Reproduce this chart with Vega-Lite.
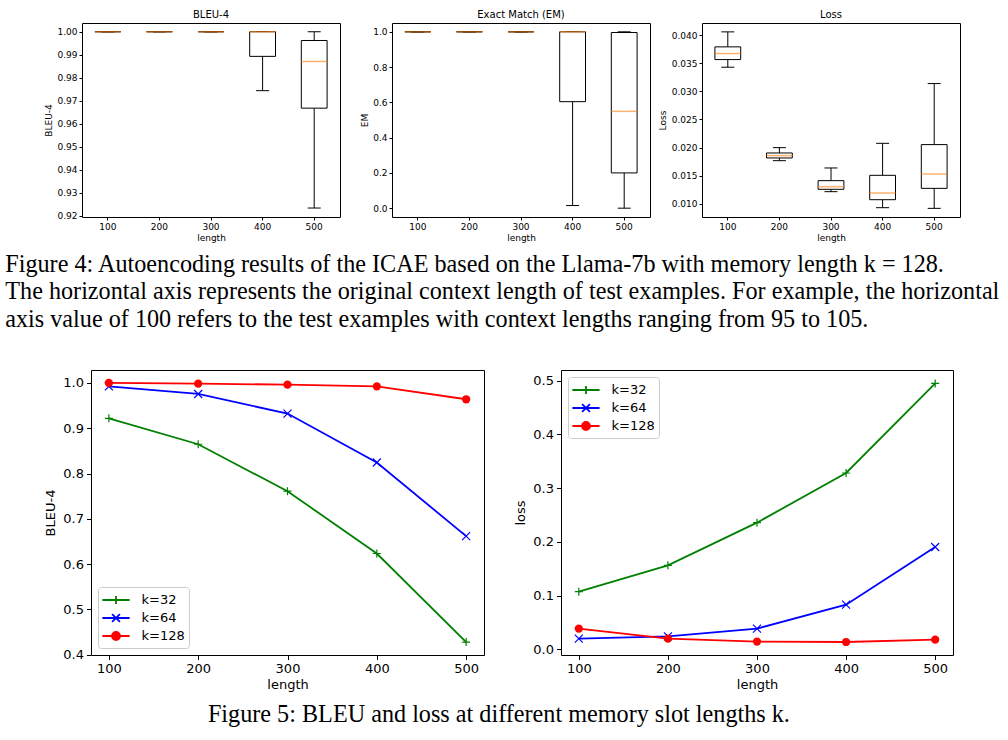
{
  "$schema": "https://vega.github.io/schema/vega-lite/v6.json",
  "background": "white",
  "padding": {"left": 5, "top": 9, "right": 5, "bottom": 5},
  "config": {
    "font": "DejaVu Sans",
    "view": {"stroke": "black", "strokeWidth": 1},
    "axis": {"domain": false, "grid": false, "tickColor": "black", "labelColor": "black", "titleColor": "black", "titleFontWeight": "normal", "labelFont": "DejaVu Sans", "titleFont": "DejaVu Sans", "tickWidth": 1, "labelOverlap": false, "tickCount": 20},
    "title": {"font": "DejaVu Sans", "fontWeight": "normal", "color": "black"}
  },
  "datasets": {
    "bleu_box": [
      {"length": "100", "lower": 1.0, "q1": 1.0, "median": 1.0, "q3": 1.0, "upper": 1.0},
      {"length": "200", "lower": 1.0, "q1": 1.0, "median": 1.0, "q3": 1.0, "upper": 1.0},
      {"length": "300", "lower": 1.0, "q1": 1.0, "median": 1.0, "q3": 1.0, "upper": 1.0},
      {"length": "400", "lower": 0.9744, "q1": 0.9893, "median": 1.0, "q3": 1.0, "upper": 1.0},
      {"length": "500", "lower": 0.9234, "q1": 0.9668, "median": 0.9871, "q3": 0.9962, "upper": 1.0}
    ],
    "em_box": [
      {"length": "100", "lower": 1.0, "q1": 1.0, "median": 1.0, "q3": 1.0, "upper": 1.0},
      {"length": "200", "lower": 1.0, "q1": 1.0, "median": 1.0, "q3": 1.0, "upper": 1.0},
      {"length": "300", "lower": 1.0, "q1": 1.0, "median": 1.0, "q3": 1.0, "upper": 1.0},
      {"length": "400", "lower": 0.015, "q1": 0.604, "median": 1.0, "q3": 1.0, "upper": 1.0},
      {"length": "500", "lower": 0.0, "q1": 0.2, "median": 0.549, "q3": 0.996, "upper": 1.0}
    ],
    "loss_box": [
      {"length": "100", "lower": 0.0343, "q1": 0.03566, "median": 0.03673, "q3": 0.03792, "upper": 0.04059},
      {"length": "200", "lower": 0.01766, "q1": 0.01814, "median": 0.01856, "q3": 0.01903, "upper": 0.01998},
      {"length": "300", "lower": 0.01214, "q1": 0.01256, "median": 0.01303, "q3": 0.0141, "upper": 0.01636},
      {"length": "400", "lower": 0.00929, "q1": 0.01071, "median": 0.0119, "q3": 0.01505, "upper": 0.02075},
      {"length": "500", "lower": 0.00917, "q1": 0.01273, "median": 0.01529, "q3": 0.02052, "upper": 0.03139}
    ],
    "bleu_line": [
      {"length": 100, "k": "k=32", "value": 0.922},
      {"length": 200, "k": "k=32", "value": 0.8647},
      {"length": 300, "k": "k=32", "value": 0.761},
      {"length": 400, "k": "k=32", "value": 0.6235},
      {"length": 500, "k": "k=32", "value": 0.428},
      {"length": 100, "k": "k=64", "value": 0.9926},
      {"length": 200, "k": "k=64", "value": 0.9757},
      {"length": 300, "k": "k=64", "value": 0.9324},
      {"length": 400, "k": "k=64", "value": 0.8243},
      {"length": 500, "k": "k=64", "value": 0.6618},
      {"length": 100, "k": "k=128", "value": 1.0},
      {"length": 200, "k": "k=128", "value": 0.9985},
      {"length": 300, "k": "k=128", "value": 0.9963},
      {"length": 400, "k": "k=128", "value": 0.9926},
      {"length": 500, "k": "k=128", "value": 0.964}
    ],
    "loss_line": [
      {"length": 100, "k": "k=32", "value": 0.1073},
      {"length": 200, "k": "k=32", "value": 0.1563},
      {"length": 300, "k": "k=32", "value": 0.2357},
      {"length": 400, "k": "k=32", "value": 0.3282},
      {"length": 500, "k": "k=32", "value": 0.495},
      {"length": 100, "k": "k=64", "value": 0.0199},
      {"length": 200, "k": "k=64", "value": 0.0242},
      {"length": 300, "k": "k=64", "value": 0.0385},
      {"length": 400, "k": "k=64", "value": 0.0831},
      {"length": 500, "k": "k=64", "value": 0.1904},
      {"length": 100, "k": "k=128", "value": 0.0385},
      {"length": 200, "k": "k=128", "value": 0.0199},
      {"length": 300, "k": "k=128", "value": 0.0143},
      {"length": 400, "k": "k=128", "value": 0.0136},
      {"length": 500, "k": "k=128", "value": 0.018}
    ]
  },
  "spacing": 35,
  "vconcat": [
    {
      "hconcat": [
        {
          "width": 258, "height": 194,
          "title": {"text": "BLEU-4", "fontSize": 10, "offset": 3},
          "data": {"name": "bleu_box"},
          "encoding": {"x": {"field": "length", "type": "ordinal", "scale": {"paddingInner": 0, "paddingOuter": 0}, "axis": {"title": "length", "labelAngle": 0, "labelFontSize": 9, "titleFontSize": 9, "tickSize": 3, "labelPadding": 2, "titlePadding": 2}}},
          "layer": [
            {"mark": {"type": "rule", "color": "black", "strokeWidth": 1}, "encoding": {"y": {"field": "lower", "type": "quantitative", "title": "BLEU-4", "scale": {"domain": [0.9195, 1.0038], "nice": false, "zero": false}, "axis": {"values": [0.92, 0.93, 0.94, 0.95, 0.96, 0.97, 0.98, 0.99, 1.0], "tickCount": 20, "format": ".2f", "labelFontSize": 9, "titleFontSize": 9, "tickSize": 3, "labelPadding": 2, "titlePadding": 3.5}}, "y2": {"field": "q1"}}},
            {"mark": {"type": "rule", "color": "black", "strokeWidth": 1}, "encoding": {"y": {"field": "q3", "type": "quantitative", "title": "BLEU-4"}, "y2": {"field": "upper"}}},
            {"mark": {"type": "tick", "color": "black", "size": 13, "thickness": 1, "opacity": 1}, "encoding": {"y": {"field": "lower", "type": "quantitative", "title": "BLEU-4"}}},
            {"mark": {"type": "tick", "color": "black", "size": 13, "thickness": 1, "opacity": 1}, "encoding": {"y": {"field": "upper", "type": "quantitative", "title": "BLEU-4"}}},
            {"mark": {"type": "bar", "width": {"band": 0.5}, "fill": "white", "stroke": "black", "strokeWidth": 1}, "encoding": {"y": {"field": "q1", "type": "quantitative", "title": "BLEU-4"}, "y2": {"field": "q3"}}},
            {"mark": {"type": "tick", "color": "#ff7f0e", "size": 26, "thickness": 1.5, "opacity": 0.6}, "encoding": {"y": {"field": "median", "type": "quantitative", "title": "BLEU-4"}}}
          ]
        },
        {
          "width": 258, "height": 194,
          "title": {"text": "Exact Match (EM)", "fontSize": 10, "offset": 3},
          "data": {"name": "em_box"},
          "encoding": {"x": {"field": "length", "type": "ordinal", "scale": {"paddingInner": 0, "paddingOuter": 0}, "axis": {"title": "length", "labelAngle": 0, "labelFontSize": 9, "titleFontSize": 9, "tickSize": 3, "labelPadding": 2, "titlePadding": 2}}},
          "layer": [
            {"mark": {"type": "rule", "color": "black", "strokeWidth": 1}, "encoding": {"y": {"field": "lower", "type": "quantitative", "title": "EM", "scale": {"domain": [-0.05, 1.05], "nice": false, "zero": false}, "axis": {"values": [0, 0.2, 0.4, 0.6, 0.8, 1.0], "tickCount": 20, "format": ".1f", "labelFontSize": 9, "titleFontSize": 9, "tickSize": 3, "labelPadding": 2, "titlePadding": 3.5}}, "y2": {"field": "q1"}}},
            {"mark": {"type": "rule", "color": "black", "strokeWidth": 1}, "encoding": {"y": {"field": "q3", "type": "quantitative", "title": "EM"}, "y2": {"field": "upper"}}},
            {"mark": {"type": "tick", "color": "black", "size": 13, "thickness": 1, "opacity": 1}, "encoding": {"y": {"field": "lower", "type": "quantitative", "title": "EM"}}},
            {"mark": {"type": "tick", "color": "black", "size": 13, "thickness": 1, "opacity": 1}, "encoding": {"y": {"field": "upper", "type": "quantitative", "title": "EM"}}},
            {"mark": {"type": "bar", "width": {"band": 0.5}, "fill": "white", "stroke": "black", "strokeWidth": 1}, "encoding": {"y": {"field": "q1", "type": "quantitative", "title": "EM"}, "y2": {"field": "q3"}}},
            {"mark": {"type": "tick", "color": "#ff7f0e", "size": 26, "thickness": 1.5, "opacity": 0.6}, "encoding": {"y": {"field": "median", "type": "quantitative", "title": "EM"}}}
          ]
        },
        {
          "width": 258, "height": 194,
          "title": {"text": "Loss", "fontSize": 10, "offset": 3},
          "data": {"name": "loss_box"},
          "encoding": {"x": {"field": "length", "type": "ordinal", "scale": {"paddingInner": 0, "paddingOuter": 0}, "axis": {"title": "length", "labelAngle": 0, "labelFontSize": 9, "titleFontSize": 9, "tickSize": 3, "labelPadding": 2, "titlePadding": 2}}},
          "layer": [
            {"mark": {"type": "rule", "color": "black", "strokeWidth": 1}, "encoding": {"y": {"field": "lower", "type": "quantitative", "title": "Loss", "scale": {"domain": [0.00763, 0.04217], "nice": false, "zero": false}, "axis": {"values": [0.01, 0.015, 0.02, 0.025, 0.03, 0.035, 0.04], "tickCount": 20, "format": ".3f", "labelFontSize": 9, "titleFontSize": 9, "tickSize": 3, "labelPadding": 2, "titlePadding": 3.5}}, "y2": {"field": "q1"}}},
            {"mark": {"type": "rule", "color": "black", "strokeWidth": 1}, "encoding": {"y": {"field": "q3", "type": "quantitative", "title": "Loss"}, "y2": {"field": "upper"}}},
            {"mark": {"type": "tick", "color": "black", "size": 13, "thickness": 1, "opacity": 1}, "encoding": {"y": {"field": "lower", "type": "quantitative", "title": "Loss"}}},
            {"mark": {"type": "tick", "color": "black", "size": 13, "thickness": 1, "opacity": 1}, "encoding": {"y": {"field": "upper", "type": "quantitative", "title": "Loss"}}},
            {"mark": {"type": "bar", "width": {"band": 0.5}, "fill": "white", "stroke": "black", "strokeWidth": 1}, "encoding": {"y": {"field": "q1", "type": "quantitative", "title": "Loss"}, "y2": {"field": "q3"}}},
            {"mark": {"type": "tick", "color": "#ff7f0e", "size": 26, "thickness": 1.5, "opacity": 0.6}, "encoding": {"y": {"field": "median", "type": "quantitative", "title": "Loss"}}}
          ]
        }
      ],
      "spacing": 52,
      "bounds": "flush",
      "title": {
        "text": [
          "Figure 4: Autoencoding results of the ICAE based on the Llama-7b with memory length k = 128.",
          "The horizontal axis represents the original context length of test examples. For example, the horizontal",
          "axis value of 100 refers to the test examples with context lengths ranging from 95 to 105."
        ],
        "orient": "bottom", "anchor": "start", "font": "Liberation Serif", "fontSize": 24.2, "lineHeight": 27.5, "offset": 10, "dx": -38.7, "color": "black", "fontWeight": "normal"
      }
    },
    {
      "hconcat": [
        {"width": 1, "height": 1, "data": {"values": [{"spacer": 1}]}, "mark": {"type": "point", "opacity": 0}, "view": {"stroke": null}},
        {
          "hconcat": [
            {
              "width": 393, "height": 285,
              "data": {"name": "bleu_line"},
              "encoding": {
                "x": {"field": "length", "type": "quantitative", "scale": {"domain": [80, 520], "nice": false, "zero": false}, "axis": {"values": [100, 200, 300, 400, 500], "format": "d", "labelFontSize": 13, "titleFontSize": 13, "tickSize": 4.5, "labelPadding": 3, "titlePadding": 3, "title": "length"}},
                "y": {"field": "value", "type": "quantitative", "scale": {"domain": [0.3994, 1.0286], "nice": false, "zero": false}, "axis": {"values": [0.4, 0.5, 0.6, 0.7, 0.8, 0.9, 1.0], "format": ".1f", "labelFontSize": 13, "titleFontSize": 13, "tickSize": 4.5, "labelPadding": 3, "titlePadding": 5, "title": "BLEU-4"}},
                "color": {"field": "k", "type": "nominal", "scale": {"domain": ["k=32", "k=64", "k=128"], "range": ["#008000", "#0000ff", "#ff0000"]},
                  "legend": {"title": null, "orient": "bottom-left", "offset": 7, "labelFontSize": 13, "labelFont": "DejaVu Sans", "labelColor": "black", "symbolSize": 100, "symbolOffset": 5, "labelOffset": 16, "rowPadding": 0, "padding": 3.5, "strokeColor": "#cccccc", "fillColor": "rgba(255,255,255,0.8)", "cornerRadius": 3,
                    "encode": {"symbols": {"update": {
                      "shape": {"signal": "datum.value === 'k=32' ? 'M-1.6,0H1.6M0,-0.46V0.46' : datum.value === 'k=64' ? 'M-1.6,0H1.6M-0.46,-0.46L0.46,0.46M-0.46,0.46L0.46,-0.46' : 'M-1.6,0H1.6M-0.47,0A0.47,0.47,0,1,0,0.47,0A0.47,0.47,0,1,0,-0.47,0Z'"},
                      "size": {"value": 289},
                      "fill": {"signal": "datum.value === 'k=32' ? '#008000' : datum.value === 'k=64' ? '#0000ff' : '#ff0000'"},
                      "stroke": {"signal": "datum.value === 'k=32' ? '#008000' : datum.value === 'k=64' ? '#0000ff' : '#ff0000'"},
                      "strokeWidth": {"value": 1.8}, "opacity": {"value": 1}, "fillOpacity": {"value": 1}, "strokeOpacity": {"value": 1}}}}}}
              },
              "layer": [
                {"mark": {"type": "line", "strokeWidth": 1.8}},
                {"transform": [{"filter": {"field": "k", "equal": "k=32"}}], "mark": {"type": "point", "shape": "M-1,0H1M0,-1V1", "filled": false, "opacity": 1, "size": 64, "strokeWidth": 1.2}},
                {"transform": [{"filter": {"field": "k", "equal": "k=64"}}], "mark": {"type": "point", "shape": "M-1,-1L1,1M-1,1L1,-1", "filled": false, "opacity": 1, "size": 64, "strokeWidth": 1.2}},
                {"transform": [{"filter": {"field": "k", "equal": "k=128"}}], "mark": {"type": "point", "shape": "circle", "filled": true, "opacity": 1, "size": 68}}
              ]
            },
            {
              "width": 392, "height": 285,
              "data": {"name": "loss_line"},
              "encoding": {
                "x": {"field": "length", "type": "quantitative", "scale": {"domain": [80, 520], "nice": false, "zero": false}, "axis": {"values": [100, 200, 300, 400, 500], "format": "d", "labelFontSize": 13, "titleFontSize": 13, "tickSize": 4.5, "labelPadding": 3, "titlePadding": 3, "title": "length"}},
                "y": {"field": "value", "type": "quantitative", "scale": {"domain": [-0.0106, 0.5199], "nice": false, "zero": false}, "axis": {"values": [0, 0.1, 0.2, 0.3, 0.4, 0.5], "format": ".1f", "labelFontSize": 13, "titleFontSize": 13, "tickSize": 4.5, "labelPadding": 3, "titlePadding": 5, "title": "loss"}},
                "color": {"field": "k", "type": "nominal", "scale": {"domain": ["k=32", "k=64", "k=128"], "range": ["#008000", "#0000ff", "#ff0000"]},
                  "legend": {"title": null, "orient": "top-left", "offset": 7, "labelFontSize": 13, "labelFont": "DejaVu Sans", "labelColor": "black", "symbolSize": 100, "symbolOffset": 5, "labelOffset": 16, "rowPadding": 0, "padding": 3.5, "strokeColor": "#cccccc", "fillColor": "rgba(255,255,255,0.8)", "cornerRadius": 3,
                    "encode": {"symbols": {"update": {
                      "shape": {"signal": "datum.value === 'k=32' ? 'M-1.6,0H1.6M0,-0.46V0.46' : datum.value === 'k=64' ? 'M-1.6,0H1.6M-0.46,-0.46L0.46,0.46M-0.46,0.46L0.46,-0.46' : 'M-1.6,0H1.6M-0.47,0A0.47,0.47,0,1,0,0.47,0A0.47,0.47,0,1,0,-0.47,0Z'"},
                      "size": {"value": 289},
                      "fill": {"signal": "datum.value === 'k=32' ? '#008000' : datum.value === 'k=64' ? '#0000ff' : '#ff0000'"},
                      "stroke": {"signal": "datum.value === 'k=32' ? '#008000' : datum.value === 'k=64' ? '#0000ff' : '#ff0000'"},
                      "strokeWidth": {"value": 1.8}, "opacity": {"value": 1}, "fillOpacity": {"value": 1}, "strokeOpacity": {"value": 1}}}}}}
              },
              "layer": [
                {"mark": {"type": "line", "strokeWidth": 1.8}},
                {"transform": [{"filter": {"field": "k", "equal": "k=32"}}], "mark": {"type": "point", "shape": "M-1,0H1M0,-1V1", "filled": false, "opacity": 1, "size": 64, "strokeWidth": 1.2}},
                {"transform": [{"filter": {"field": "k", "equal": "k=64"}}], "mark": {"type": "point", "shape": "M-1,-1L1,1M-1,1L1,-1", "filled": false, "opacity": 1, "size": 64, "strokeWidth": 1.2}},
                {"transform": [{"filter": {"field": "k", "equal": "k=128"}}], "mark": {"type": "point", "shape": "circle", "filled": true, "opacity": 1, "size": 68}}
              ]
            }
          ],
          "spacing": 77,
          "bounds": "flush",
          "resolve": {"scale": {"color": "independent"}},
          "title": {"text": "Figure 5: BLEU and loss at different memory slot lengths k.", "orient": "bottom", "anchor": "middle", "font": "Liberation Serif", "fontSize": 24.2, "offset": 11, "color": "black", "fontWeight": "normal"}
        }
      ],
      "spacing": 8,
      "bounds": "flush"
    }
  ]
}
